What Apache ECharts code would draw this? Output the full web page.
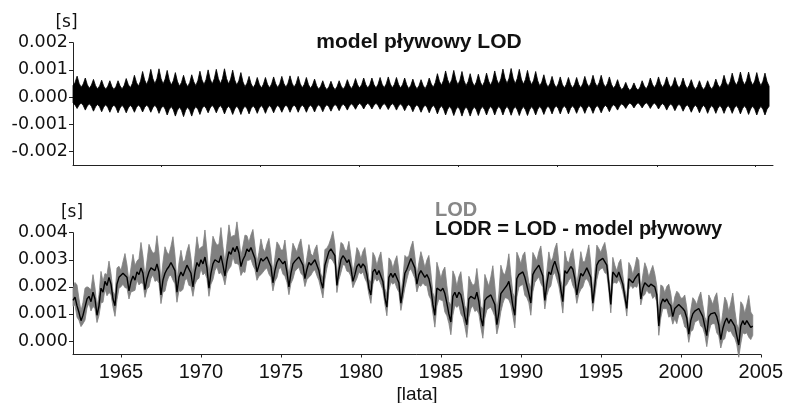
<!DOCTYPE html>
<html>
<head>
<meta charset="utf-8">
<title>model pływowy LOD / LODR</title>
<script src="https://cdn.jsdelivr.net/npm/echarts@6/dist/echarts.min.js"></script>
<style>
  html, body { margin: 0; padding: 0; background: #ffffff; }
  #chart { width: 786px; height: 403px; }
</style>
</head>
<body>
<div id="chart"></div>
<script>
// Time grid: eighth-of-a-year samples starting 1962.0 (341 samples, up to 2004.5)
const START_YEAR = 1962;
const STEP_YEARS = 0.125;

// Tidal LOD model: upper edge of the band, milliseconds, 8 samples per year
const tideHighMs = [
  0.42, 0.54, 0.77, 0.50, 0.36, 0.48, 0.70, 0.45,   // 1962
  0.32, 0.44, 0.65, 0.42, 0.30, 0.41, 0.62, 0.40,   // 1963
  0.29, 0.40, 0.60, 0.39, 0.28, 0.39, 0.60, 0.41,   // 1964
  0.30, 0.43, 0.68, 0.46, 0.34, 0.50, 0.80, 0.54,   // 1965
  0.40, 0.59, 0.94, 0.63, 0.46, 0.66, 1.02, 0.68,   // 1966
  0.49, 0.68, 1.04, 0.68, 0.48, 0.66, 0.98, 0.63,   // 1967
  0.44, 0.60, 0.90, 0.58, 0.40, 0.54, 0.80, 0.53,   // 1968
  0.38, 0.53, 0.82, 0.56, 0.42, 0.61, 0.95, 0.63,   // 1969
  0.46, 0.65, 1.00, 0.66, 0.48, 0.67, 1.02, 0.68,   // 1970
  0.49, 0.68, 1.04, 0.68, 0.48, 0.66, 0.99, 0.63,   // 1971
  0.44, 0.60, 0.90, 0.56, 0.38, 0.51, 0.76, 0.49,   // 1972
  0.34, 0.47, 0.72, 0.47, 0.33, 0.47, 0.72, 0.47,   // 1973
  0.34, 0.48, 0.74, 0.49, 0.35, 0.49, 0.76, 0.50,   // 1974
  0.36, 0.51, 0.78, 0.51, 0.36, 0.50, 0.76, 0.49,   // 1975
  0.34, 0.47, 0.72, 0.46, 0.32, 0.44, 0.66, 0.42,   // 1976
  0.29, 0.40, 0.60, 0.38, 0.27, 0.38, 0.58, 0.38,   // 1977
  0.27, 0.39, 0.60, 0.40, 0.29, 0.41, 0.64, 0.43,   // 1978
  0.31, 0.44, 0.68, 0.45, 0.33, 0.46, 0.70, 0.46,   // 1979
  0.33, 0.46, 0.70, 0.46, 0.33, 0.47, 0.72, 0.47,   // 1980
  0.34, 0.48, 0.74, 0.48, 0.34, 0.47, 0.72, 0.47,   // 1981
  0.33, 0.46, 0.70, 0.45, 0.31, 0.43, 0.66, 0.43,   // 1982
  0.30, 0.42, 0.64, 0.43, 0.31, 0.45, 0.70, 0.48,   // 1983
  0.36, 0.54, 0.86, 0.58, 0.43, 0.62, 0.96, 0.64,   // 1984
  0.46, 0.64, 0.98, 0.64, 0.45, 0.62, 0.94, 0.60,   // 1985
  0.42, 0.57, 0.86, 0.56, 0.40, 0.55, 0.84, 0.55,   // 1986
  0.40, 0.57, 0.88, 0.59, 0.43, 0.62, 0.96, 0.64,   // 1987
  0.47, 0.67, 1.03, 0.69, 0.50, 0.69, 1.05, 0.69,   // 1988
  0.49, 0.68, 1.02, 0.66, 0.47, 0.65, 0.98, 0.64,   // 1989
  0.45, 0.62, 0.94, 0.60, 0.41, 0.55, 0.82, 0.52,   // 1990
  0.36, 0.50, 0.76, 0.49, 0.34, 0.48, 0.74, 0.47,   // 1991
  0.33, 0.47, 0.72, 0.47, 0.33, 0.47, 0.72, 0.47,   // 1992
  0.34, 0.49, 0.76, 0.51, 0.37, 0.52, 0.80, 0.53,   // 1993
  0.38, 0.53, 0.80, 0.51, 0.36, 0.49, 0.74, 0.47,   // 1994
  0.32, 0.43, 0.64, 0.40, 0.27, 0.36, 0.54, 0.35,   // 1995
  0.24, 0.34, 0.52, 0.34, 0.25, 0.37, 0.60, 0.41,   // 1996
  0.30, 0.44, 0.70, 0.47, 0.34, 0.48, 0.74, 0.49,   // 1997
  0.35, 0.49, 0.74, 0.48, 0.34, 0.47, 0.72, 0.47,   // 1998
  0.33, 0.46, 0.70, 0.45, 0.31, 0.43, 0.64, 0.41,   // 1999
  0.28, 0.39, 0.60, 0.39, 0.27, 0.39, 0.60, 0.40,   // 2000
  0.29, 0.42, 0.66, 0.45, 0.34, 0.50, 0.80, 0.54,   // 2001
  0.40, 0.57, 0.88, 0.59, 0.43, 0.60, 0.92, 0.61,   // 2002
  0.44, 0.61, 0.92, 0.60, 0.43, 0.59, 0.90, 0.59,   // 2003
  0.42, 0.58, 0.88, 0.57, 0.40                      // 2004
];

// Tidal LOD model: lower edge of the band, milliseconds, 8 samples per year
const tideLowMs = [
  -0.22, -0.29, -0.42, -0.29, -0.22, -0.31, -0.48, -0.33,   // 1962
  -0.25, -0.34, -0.52, -0.36, -0.27, -0.36, -0.54, -0.37,   // 1963
  -0.28, -0.38, -0.56, -0.38, -0.29, -0.39, -0.58, -0.40,   // 1964
  -0.30, -0.40, -0.58, -0.40, -0.30, -0.39, -0.56, -0.38,   // 1965
  -0.29, -0.38, -0.55, -0.38, -0.29, -0.38, -0.56, -0.39,   // 1966
  -0.30, -0.40, -0.60, -0.42, -0.32, -0.44, -0.66, -0.46,   // 1967
  -0.35, -0.47, -0.70, -0.49, -0.37, -0.49, -0.72, -0.49,   // 1968
  -0.37, -0.49, -0.70, -0.47, -0.35, -0.45, -0.64, -0.43,   // 1969
  -0.32, -0.41, -0.58, -0.40, -0.30, -0.40, -0.58, -0.40,   // 1970
  -0.31, -0.42, -0.62, -0.43, -0.33, -0.44, -0.64, -0.44,   // 1971
  -0.33, -0.44, -0.64, -0.44, -0.33, -0.43, -0.62, -0.42,   // 1972
  -0.32, -0.42, -0.60, -0.41, -0.31, -0.41, -0.60, -0.41,   // 1973
  -0.31, -0.40, -0.58, -0.40, -0.30, -0.39, -0.56, -0.39,   // 1974
  -0.29, -0.38, -0.56, -0.38, -0.29, -0.38, -0.56, -0.38,   // 1975
  -0.29, -0.38, -0.56, -0.38, -0.29, -0.38, -0.55, -0.37,   // 1976
  -0.28, -0.37, -0.54, -0.37, -0.28, -0.36, -0.52, -0.36,   // 1977
  -0.27, -0.35, -0.50, -0.34, -0.26, -0.34, -0.48, -0.33,   // 1978
  -0.25, -0.32, -0.45, -0.31, -0.23, -0.30, -0.44, -0.30,   // 1979
  -0.23, -0.30, -0.44, -0.30, -0.23, -0.31, -0.45, -0.31,   // 1980
  -0.24, -0.32, -0.46, -0.32, -0.24, -0.32, -0.48, -0.33,   // 1981
  -0.25, -0.34, -0.50, -0.35, -0.27, -0.36, -0.54, -0.37,   // 1982
  -0.28, -0.38, -0.56, -0.39, -0.29, -0.39, -0.58, -0.40,   // 1983
  -0.30, -0.41, -0.62, -0.42, -0.32, -0.44, -0.66, -0.45,   // 1984
  -0.34, -0.46, -0.68, -0.47, -0.35, -0.47, -0.70, -0.48,   // 1985
  -0.36, -0.48, -0.70, -0.48, -0.36, -0.47, -0.68, -0.46,   // 1986
  -0.35, -0.46, -0.66, -0.45, -0.34, -0.45, -0.66, -0.45,   // 1987
  -0.34, -0.45, -0.66, -0.45, -0.34, -0.46, -0.67, -0.46,   // 1988
  -0.35, -0.47, -0.68, -0.47, -0.35, -0.47, -0.68, -0.47,   // 1989
  -0.35, -0.46, -0.66, -0.45, -0.34, -0.45, -0.64, -0.44,   // 1990
  -0.33, -0.43, -0.62, -0.42, -0.32, -0.42, -0.62, -0.42,   // 1991
  -0.32, -0.42, -0.62, -0.42, -0.32, -0.42, -0.60, -0.41,   // 1992
  -0.31, -0.41, -0.60, -0.41, -0.31, -0.41, -0.60, -0.41,   // 1993
  -0.31, -0.40, -0.58, -0.40, -0.30, -0.38, -0.54, -0.37,   // 1994
  -0.28, -0.35, -0.48, -0.33, -0.25, -0.31, -0.42, -0.29,   // 1995
  -0.22, -0.28, -0.40, -0.28, -0.21, -0.28, -0.40, -0.28,   // 1996
  -0.21, -0.28, -0.42, -0.29, -0.22, -0.30, -0.44, -0.31,   // 1997
  -0.24, -0.32, -0.48, -0.33, -0.25, -0.34, -0.50, -0.35,   // 1998
  -0.26, -0.35, -0.52, -0.37, -0.28, -0.38, -0.56, -0.39,   // 1999
  -0.29, -0.39, -0.58, -0.40, -0.30, -0.40, -0.60, -0.41,   // 2000
  -0.31, -0.41, -0.60, -0.41, -0.31, -0.41, -0.60, -0.41,   // 2001
  -0.31, -0.41, -0.60, -0.41, -0.31, -0.42, -0.62, -0.43,   // 2002
  -0.32, -0.43, -0.64, -0.44, -0.33, -0.45, -0.66, -0.45,   // 2003
  -0.34, -0.45, -0.66, -0.45, -0.34                         // 2004
];

// LODR = LOD - tidal model, milliseconds, 8 samples per year
const lodrMs = [
  1.50, 1.62, 1.30, 1.05, 0.75, 0.95, 1.25, 1.55,   // 1962
  1.65, 1.45, 1.80, 1.55, 0.95, 1.30, 1.95, 1.80,   // 1963
  2.20, 2.05, 2.35, 2.10, 1.55, 1.30, 2.10, 2.35,   // 1964
  2.30, 2.50, 2.55, 2.35, 1.85, 2.20, 2.40, 2.25,   // 1965
  2.55, 2.45, 2.70, 2.50, 1.90, 2.30, 2.55, 2.70,   // 1966
  2.75, 2.60, 2.85, 2.55, 1.70, 2.25, 2.50, 2.65,   // 1967
  2.75, 2.90, 2.95, 2.60, 1.80, 2.35, 2.55, 2.40,   // 1968
  2.60, 2.80, 2.75, 2.50, 2.00, 2.55, 2.90, 2.75,   // 1969
  3.00, 2.85, 3.10, 2.70, 1.95, 2.50, 2.85, 3.00,   // 1970
  3.05, 2.90, 3.15, 2.80, 2.40, 2.95, 3.30, 3.20,   // 1971
  3.45, 3.30, 3.50, 3.25, 2.75, 3.00, 3.15, 3.40,   // 1972
  3.30, 3.45, 3.40, 3.05, 2.55, 2.80, 3.05, 2.95,   // 1973
  2.95, 3.10, 3.05, 2.75, 2.15, 2.60, 2.90, 3.05,   // 1974
  3.00, 2.85, 2.95, 2.55, 2.00, 2.50, 2.85, 2.95,   // 1975
  2.95, 3.10, 3.05, 2.80, 2.30, 2.65, 2.90, 2.80,   // 1976
  2.85, 3.00, 2.95, 2.60, 2.20, 1.95, 2.80, 3.05,   // 1977
  3.30, 3.40, 3.45, 3.15, 2.05, 2.60, 3.00, 3.15,   // 1978
  3.05, 2.90, 3.00, 2.70, 2.20, 2.45, 2.75, 2.85,   // 1979
  2.70, 2.85, 2.75, 2.45, 1.95, 1.70, 2.55, 2.65,   // 1980
  2.45, 2.60, 2.55, 2.20, 1.60, 1.25, 2.35, 2.50,   // 1981
  2.35, 2.50, 2.45, 2.15, 1.40, 1.90, 2.50, 2.65,   // 1982
  2.85, 3.05, 3.05, 2.70, 2.10, 2.45, 2.60, 2.55,   // 1983
  2.35, 2.45, 2.30, 1.95, 1.35, 0.95, 1.95, 2.00,   // 1984
  1.85, 1.95, 1.75, 1.40, 1.00, 0.70, 1.65, 1.80,   // 1985
  1.60, 1.80, 1.70, 1.35, 0.90, 0.60, 1.55, 1.65,   // 1986
  1.65, 1.55, 1.80, 1.45, 0.85, 0.55, 1.50, 1.60,   // 1987
  1.55, 1.70, 1.75, 1.35, 0.60, 1.05, 1.75, 1.85,   // 1988
  1.95, 2.05, 2.20, 1.80, 1.30, 0.95, 2.30, 2.45,   // 1989
  2.40, 2.55, 2.35, 2.05, 1.75, 1.40, 2.45, 2.60,   // 1990
  2.60, 2.80, 2.75, 2.40, 1.50, 2.10, 2.55, 2.45,   // 1991
  2.75, 2.95, 2.90, 2.45, 1.90, 1.45, 2.60, 2.50,   // 1992
  2.55, 2.75, 2.65, 2.30, 1.70, 2.15, 2.50, 2.40,   // 1993
  2.55, 2.70, 2.75, 2.35, 1.40, 2.05, 2.80, 2.95,   // 1994
  2.95, 3.05, 3.00, 2.80, 2.10, 1.35, 2.55, 2.45,   // 1995
  2.35, 2.55, 2.50, 2.10, 1.65, 1.20, 2.30, 2.35,   // 1996
  2.15, 2.30, 2.40, 2.50, 1.55, 1.95, 2.15, 2.20,   // 1997
  2.00, 2.10, 2.05, 2.00, 1.70, 0.55, 1.35, 1.55,   // 1998
  1.45, 1.55, 1.40, 1.30, 0.90, 1.20, 1.20, 1.35,   // 1999
  1.30, 1.20, 1.10, 0.85, 0.25, 0.75, 1.00, 1.10,   // 2000
  1.05, 1.20, 1.15, 0.90, 0.55, 0.20, 0.90, 1.00,   // 2001
  0.95, 1.05, 0.90, 0.60, 0.05, 0.45, 0.70, 0.85,   // 2002
  0.65, 0.80, 0.85, 0.55, 0.20, -0.15, 0.55, 0.75,  // 2003
  0.60, 0.75, 0.80, 0.50, 0.55                      // 2004
];

// Axis ticks
const yearTicks = [1965, 1970, 1975, 1980, 1985, 1990, 1995, 2000, 2005];
const topTimeTicks = [1967.40, 1973.42, 1979.46, 1985.51, 1991.55, 1997.66, 2003.64];
const tideTicks = [-0.002, -0.001, 0, 0.001, 0.002];
const lodTicks = [0, 0.001, 0.002, 0.003, 0.004];

// ---- sample tables in seconds ----
const MS = 0.001;
const times = lodrMs.map((_, i) => START_YEAR + i * STEP_YEARS);
const tideHigh = tideHighMs.map(v => v * MS);
const tideLow = tideLowMs.map(v => v * MS);
const lodr = lodrMs.map(v => v * MS);
// LOD = LODR + tidal model: its band is LODR shifted by the tidal band
const lodHigh = lodr.map((v, i) => v + tideHigh[i]);
const lodLow = lodr.map((v, i) => v + tideLow[i]);

function bandRenderer(upper, lower, color) {
  return function (params, api) {
    const pts = [];
    for (let i = 0; i < upper.length; i++) pts.push(api.coord([times[i], upper[i]]));
    for (let i = lower.length - 1; i >= 0; i--) pts.push(api.coord([times[i], lower[i]]));
    return {
      type: 'polygon',
      shape: { points: pts },
      style: { fill: color, stroke: color, lineWidth: 0.8 }
    };
  };
}

const AXIS_COLOR = '#222';
const yLabelStyle = {
  fontFamily: '"DejaVu Sans", sans-serif',
  fontSize: 17.5,
  color: '#111',
  margin: 5,
  formatter: v => (Math.abs(v) < 1e-9 ? '0.000' : v.toFixed(3))
};

const chart = echarts.init(document.getElementById('chart'), null, { renderer: 'canvas' });

chart.setOption({
  animation: false,
  backgroundColor: '#ffffff',
  grid: [
    { left: 73, right: 13, top: 42.7, height: 122.3 },
    { left: 73, right: 24, top: 232.7, height: 121.8 }
  ],
  xAxis: [
    {
      type: 'value', gridIndex: 0, min: 1962, max: 2004.74,
      axisLine: { show: true, onZero: false, lineStyle: { color: AXIS_COLOR, width: 1 } },
      axisTick: { show: true, customValues: topTimeTicks, length: 2, lineStyle: { color: AXIS_COLOR } },
      axisLabel: { show: false },
      splitLine: { show: false }
    },
    {
      type: 'value', gridIndex: 1, min: 1962, max: 2005,
      axisLine: { show: true, onZero: false, lineStyle: { color: AXIS_COLOR, width: 1 } },
      axisTick: { show: true, customValues: yearTicks, length: 3, lineStyle: { color: AXIS_COLOR } },
      axisLabel: {
        customValues: yearTicks,
        fontFamily: '"Liberation Sans", Arial, sans-serif',
        fontSize: 20, color: '#111', margin: 8,
        formatter: v => String(Math.round(v))
      },
      splitLine: { show: false }
    }
  ],
  yAxis: [
    {
      type: 'value', gridIndex: 0, min: -0.0025, max: 0.002,
      axisLine: { show: true, onZero: false, lineStyle: { color: AXIS_COLOR, width: 1 } },
      axisTick: { show: true, customValues: tideTicks, length: 4, lineStyle: { color: AXIS_COLOR } },
      axisLabel: Object.assign({ customValues: tideTicks }, yLabelStyle),
      splitLine: { show: false }
    },
    {
      type: 'value', gridIndex: 1, min: -0.0005, max: 0.004,
      axisLine: { show: true, onZero: false, lineStyle: { color: AXIS_COLOR, width: 1 } },
      axisTick: { show: true, customValues: lodTicks, length: 4, lineStyle: { color: AXIS_COLOR } },
      axisLabel: Object.assign({ customValues: lodTicks }, yLabelStyle),
      splitLine: { show: false }
    }
  ],
  series: [
    {
      name: 'model pływowy LOD',
      type: 'custom', xAxisIndex: 0, yAxisIndex: 0,
      renderItem: bandRenderer(tideHigh, tideLow, '#000000'),
      data: [[times[0], 0]],
      clip: false, silent: true
    },
    {
      name: 'LOD',
      type: 'custom', xAxisIndex: 1, yAxisIndex: 1,
      renderItem: bandRenderer(lodHigh, lodLow, '#808080'),
      data: [[times[0], lodr[0]]],
      clip: false, silent: true, z: 2
    },
    {
      name: 'LODR = LOD - model pływowy',
      type: 'line', xAxisIndex: 1, yAxisIndex: 1,
      data: lodr.map((v, i) => [times[i], v]),
      showSymbol: false, clip: false, z: 3,
      lineStyle: { color: '#000000', width: 1.4 }
    }
  ],
  graphic: [
    { type: 'text', x: 66.5, y: 22.5, style: { text: '[s]', font: '17px "DejaVu Sans"', fill: '#111', align: 'center', verticalAlign: 'middle' } },
    { type: 'text', x: 72, y: 213, style: { text: '[s]', font: '17px "DejaVu Sans"', fill: '#111', align: 'center', verticalAlign: 'middle' } },
    { type: 'text', x: 419, y: 42.7, style: { text: 'model pływowy LOD', font: 'bold 21px "Liberation Sans"', fill: '#111', align: 'center', verticalAlign: 'middle' } },
    { type: 'text', x: 435, y: 210.4, style: { text: 'LOD', font: 'bold 20px "Liberation Sans"', fill: '#878787', align: 'left', verticalAlign: 'middle' } },
    { type: 'text', x: 435, y: 229.8, style: { text: 'LODR = LOD - model pływowy', font: 'bold 20px "Liberation Sans"', fill: '#111', align: 'left', verticalAlign: 'middle' } },
    { type: 'text', x: 417, y: 394.5, style: { text: '[lata]', font: '19px "Liberation Sans"', fill: '#111', align: 'center', verticalAlign: 'middle' } }
  ]
});
</script>
</body>
</html>
